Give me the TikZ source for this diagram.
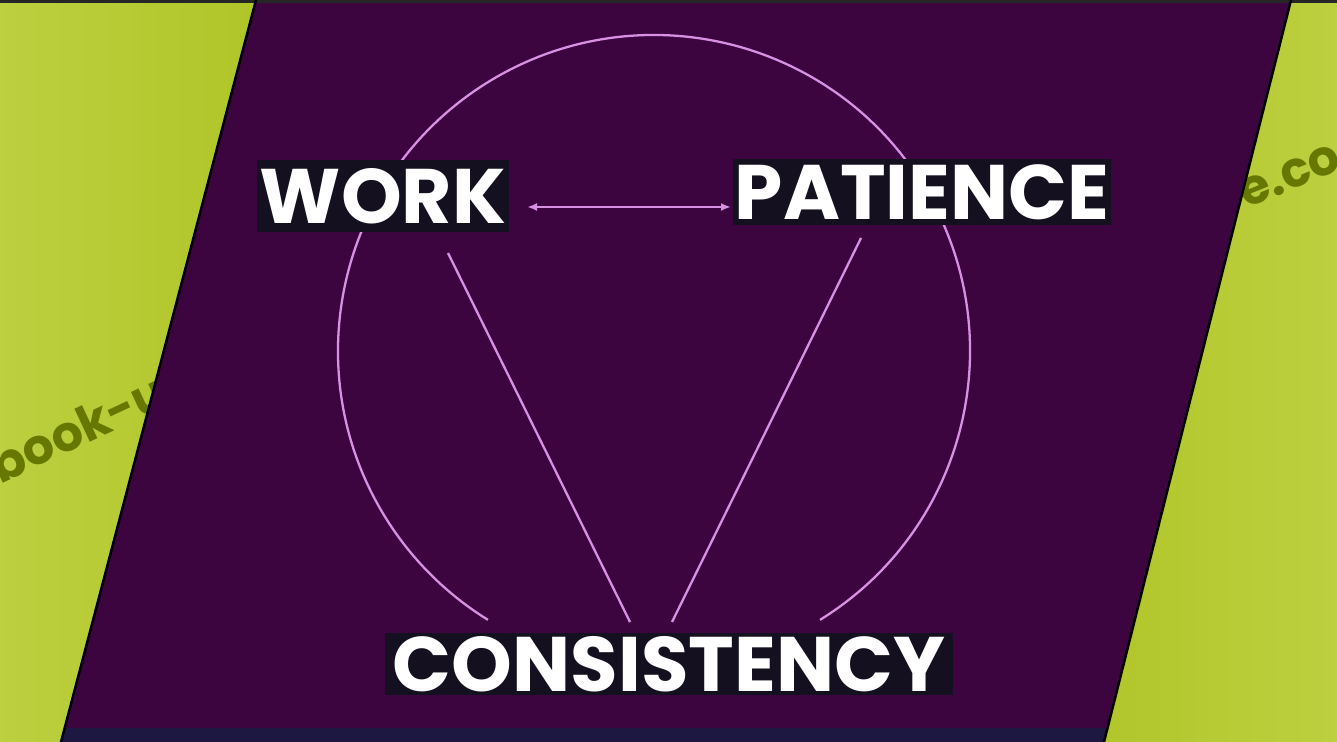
\documentclass[tikz,border=0pt]{standalone}
\usepackage{fontspec}
\setmainfont{Poppins}
\usetikzlibrary{arrows.meta}

\definecolor{plum}{HTML}{3C0540}
\definecolor{edgenavy}{HTML}{1C1842}
\definecolor{limedark}{HTML}{9CB400}
\definecolor{limelight}{HTML}{BCD040}
\definecolor{olivetext}{HTML}{667800}
\definecolor{lilac}{HTML}{D890E2}
\definecolor{boxblack}{HTML}{141020}

\begin{document}
\begin{tikzpicture}[
  x=0.02cm,y=0.02cm,
  word/.style={fill=boxblack,text=white,font=\fontsize{44}{44}\selectfont\bfseries,inner sep=0pt,align=center},
  link/.style={draw=lilac,line width=1.3pt},
  watermark/.style={text=olivetext,font=\fontsize{28}{28}\selectfont\bfseries,inner sep=0pt},
  slant/.style={draw=black,line width=1.4pt}
]
\useasboundingbox (0,0) rectangle (1337,-742);
\shade[left color=limelight,right color=limelight,middle color=limedark] (0,0) rectangle (1337,-742);

\node[watermark,rotate=25] (wmleft) at (78,-428) {book-u};
\node[watermark,rotate=22] (wmright) at (1290,-176) {e.co};

\fill[plum] (256,0) -- (1291,0) -- (1104,-742) -- (61,-742) -- cycle;
\fill[edgenavy] (64,-728) -- (1108,-728) -- (1104,-742) -- (61,-742) -- cycle;
\fill[black!85] (0,0) rectangle (1337,-3);
\draw[slant] (256,0) -- (61,-742);
\draw[slant] (1291,0) -- (1104,-742);

\draw[link] (654,-351) ++(-58.3:316) arc[start angle=-58.3,end angle=238.3,radius=316];

\node[word,minimum width=5.06cm,minimum height=1.44cm] (work) at (383,-196) {WORK};
\node[word,minimum width=7.58cm,minimum height=1.32cm] (patience) at (922,-192) {PATIENCE};
\node[word,minimum width=11.38cm,minimum height=1.24cm] (consistency) at (669,-664) {CONSISTENCY};

\coordinate (workfoot) at (448,-253);
\coordinate (patiencefoot) at (861,-238);
\coordinate (consleft) at (630,-622);
\coordinate (consright) at (672,-622);
\coordinate (workright) at (527,-207);
\coordinate (patienceleft) at (731,-207);

\draw[link] (workfoot) -- (consleft);
\draw[link] (patiencefoot) -- (consright);
\draw[link,line width=1.6pt,{Latex[length=2mm,width=1.6mm]}-{Latex[length=2mm,width=1.6mm]}] (workright) -- (patienceleft);
\end{tikzpicture}
\end{document}
